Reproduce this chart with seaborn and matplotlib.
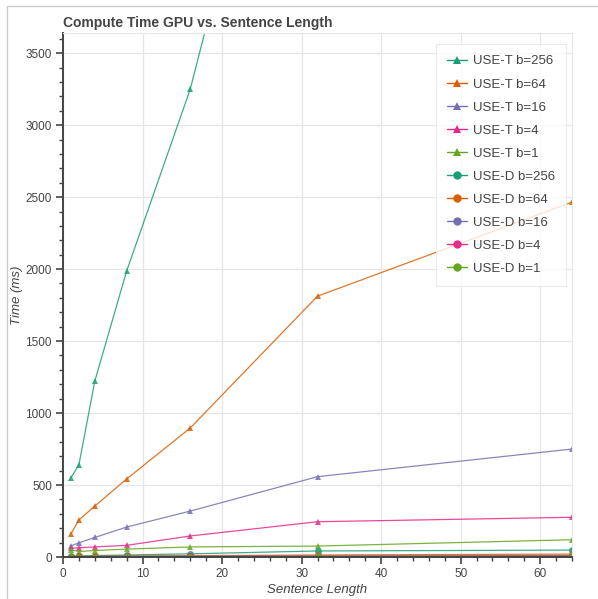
import numpy as np
import pandas as pd
import matplotlib
matplotlib.use("Agg")
import matplotlib.pyplot as plt
import seaborn as sns
from matplotlib.lines import Line2D
from matplotlib.ticker import MultipleLocator

sentence_length = [1, 2, 4, 8, 16, 32, 64]

series_names = ["USE-T b=256", "USE-T b=64", "USE-T b=16", "USE-T b=4", "USE-T b=1",
                "USE-D b=256", "USE-D b=64", "USE-D b=16", "USE-D b=4", "USE-D b=1"]

use_t_b256 = [550, 640, 1222, 1986, 3250, 6700, 13200]
use_t_b64 = [160, 257, 354, 542, 896, 1812, 2465]
use_t_b16 = [78, 98, 136, 208, 319, 558, 750]
use_t_b4 = [60, 64, 70, 81, 146, 245, 276]
use_t_b1 = [50, 38, 45, 55, 70, 76, 120]
use_d_b256 = [5, 7, 10, 14, 22, 42, 48]
use_d_b64 = [3, 4, 5, 7, 9, 14, 20]
use_d_b16 = [2, 3, 3, 4, 5, 7, 10]
use_d_b4 = [2, 2, 3, 3, 4, 5, 7]
use_d_b1 = [2, 2, 2, 3, 3, 4, 5]

values = [use_t_b256, use_t_b64, use_t_b16, use_t_b4, use_t_b1,
          use_d_b256, use_d_b64, use_d_b16, use_d_b4, use_d_b1]

dark2 = ["#1b9e77", "#d95f02", "#7570b3", "#e7298a", "#66a61e"]
colors = {n: dark2[i % 5] for i, n in enumerate(series_names)}
markers = {n: ("^" if n.startswith("USE-T") else "o") for n in series_names}

rows = []
for n, vals in zip(series_names, values):
    for x, y in zip(sentence_length, vals):
        rows.append({"Sentence Length": x, "Time (ms)": y, "series": n})
df = pd.DataFrame(rows)

sns.set_theme(style="white")
plt.rcParams['font.family'] = ['Liberation Sans', 'DejaVu Sans']

W, H = 598, 599
fig = plt.figure(figsize=(W / 100, H / 100), dpi=100)
ax = fig.add_axes([63 / W, 1 - 557 / H, (572 - 63) / W, (557 - 33) / H])

for n in series_names:
    d = df[df["series"] == n]
    sns.lineplot(data=d, x="Sentence Length", y="Time (ms)", ax=ax,
                 color=colors[n], linewidth=0.9, alpha=0.85,
                 marker=markers[n], markersize=5, markeredgewidth=0,
                 label=n, legend=False)

ax.set_xlim(0, 64)
ax.set_ylim(0, 3640)
ax.xaxis.set_major_locator(MultipleLocator(10))
ax.xaxis.set_minor_locator(MultipleLocator(2))
ax.yaxis.set_major_locator(MultipleLocator(500))
ax.yaxis.set_minor_locator(MultipleLocator(100))

ax.grid(True, which="major", color="#e6e6e6", linewidth=0.9)
ax.set_axisbelow(True)
for s in ["top", "right"]:
    ax.spines[s].set_color("#e6e6e6")
    ax.spines[s].set_linewidth(0.8)
for s in ["left", "bottom"]:
    ax.spines[s].set_color("#444444")
    ax.spines[s].set_linewidth(1.4)

ax.tick_params(axis="both", which="major", direction="out", length=5, width=1.2,
               color="#444444", labelcolor="#444444", labelsize=8.5, pad=3,
               left=True, bottom=True)
ax.tick_params(axis="both", which="minor", direction="out", length=3, width=1.0,
               color="#444444", left=True, bottom=True)

ax.set_xlabel("Sentence Length", fontsize=9.5, style="italic", color="#444444", labelpad=3)
ax.set_ylabel("Time (ms)", fontsize=9.5, style="italic", color="#444444", labelpad=2)
ax.set_title("Compute Time GPU vs. Sentence Length", fontsize=10, fontweight="bold",
             color="#444444", loc="left", x=0.0, pad=4)

handles = [Line2D([0], [0], color=colors[n], marker=markers[n], markersize=6,
                  markeredgewidth=0, linewidth=1.0) for n in series_names]
leg = fig.legend(handles, series_names, loc="upper left",
                 bbox_to_anchor=(436 / W, 1 - 44 / H), borderaxespad=0,
                 frameon=True, fancybox=False, fontsize=9.5, labelspacing=0.82,
                 handlelength=1.5, handletextpad=0.45, borderpad=0.85)
leg.get_frame().set_edgecolor("#e6e6e6")
leg.get_frame().set_linewidth(0.8)
for t in leg.get_texts():
    t.set_color("#444444")

fig.add_artist(Line2D([7 / W, 7 / W], [0, 1 - 6 / H], color="#cccccc", linewidth=1.0,
                      transform=fig.transFigure))
fig.add_artist(Line2D([7 / W, 1], [1 - 6 / H, 1 - 6 / H], color="#cccccc", linewidth=1.0,
                      transform=fig.transFigure))

fig.savefig("out.png", dpi=100)
